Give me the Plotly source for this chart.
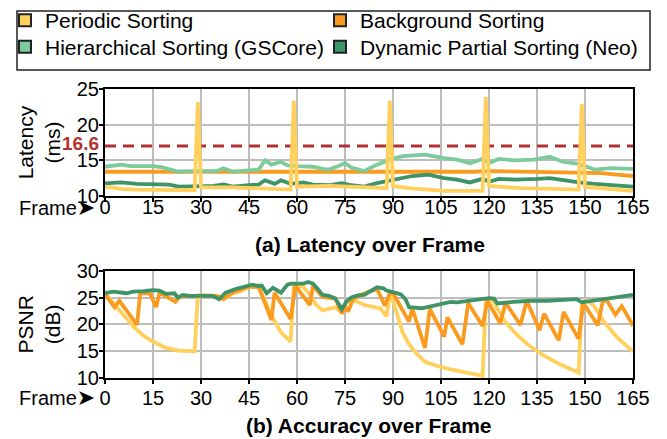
import plotly.graph_objects as go

W, H = 667, 439

# ---------------- data ----------------
frame_ticks = [0, 15, 30, 45, 60, 75, 90, 105, 120, 135, 150, 165]
latency_ticks = [10, 15, 20, 25]
psnr_ticks = [10, 15, 20, 25, 30]
budget_label = "16.6"
budget_value = 17.0

names = ["Periodic Sorting", "Background Sorting",
         "Hierarchical Sorting (GSCore)", "Dynamic Partial Sorting (Neo)"]
colors = ["#FFD15C", "#FA9A1E", "#7DCB9C", "#3F9467"]

# (a) Latency (ms) over frame
lat_periodic_x = [0, 5, 10, 20, 28, 29, 30, 40, 50, 58, 59, 60, 70, 80, 88, 89, 90, 95, 100, 106,
                  118, 119, 120, 130, 140, 148, 149, 150, 160, 165]
lat_periodic_y = [11.3, 11.0, 10.9, 10.85, 10.8, 23.2, 11.2, 11.2, 11.0, 10.9, 23.4, 11.3, 11.4, 11.2,
                  11.1, 23.4, 11.4, 11.1, 10.9, 10.7, 10.7, 23.9, 11.4, 11.1, 11.0, 10.9, 22.9, 11.3,
                  10.9, 10.7]

lat_background_x = [0, 10, 20, 30, 40, 50, 60, 70, 80, 90, 100, 105, 110, 115, 120, 130, 140, 150,
                    155, 160, 165]
lat_background_y = [13.4, 13.4, 13.3, 13.3, 13.4, 13.4, 13.3, 13.4, 13.3, 13.4, 13.3, 13.4, 13.3,
                    13.4, 13.5, 13.4, 13.4, 13.3, 13.2, 13.0, 12.8]

lat_hier_x = [0, 3, 5, 8, 10, 15, 18, 20, 23, 28, 35, 37, 40, 45, 48, 50, 52, 55, 57, 60, 65, 68,
              70, 73, 75, 77, 81, 85, 89, 93, 100, 106, 110, 114, 118, 120, 123, 128, 134, 139,
              143, 148, 153, 158, 165]
lat_hier_y = [14.1, 14.2, 14.4, 14.2, 14.2, 14.2, 14.0, 13.8, 13.4, 13.5, 13.5, 13.9, 13.4, 13.6,
              13.7, 15.0, 14.4, 14.8, 14.3, 14.2, 14.1, 13.8, 13.7, 14.2, 14.6, 14.0, 13.5, 14.4,
              15.1, 15.6, 15.8, 15.3, 15.1, 14.6, 15.2, 14.6, 15.2, 15.0, 15.1, 15.5, 14.8, 14.5,
              13.7, 13.9, 13.8]

lat_neo_x = [0, 5, 10, 15, 20, 23, 30, 34, 37, 40, 45, 48, 50, 53, 55, 58, 62, 65, 70, 74, 77, 81,
             85, 88, 91, 96, 101, 106, 110, 114, 118, 120, 123, 128, 135, 139, 145, 148, 153, 158,
             165]
lat_neo_y = [11.75, 11.9, 11.7, 11.7, 11.6, 11.3, 11.3, 11.4, 11.6, 11.3, 11.5, 11.6, 12.2, 11.7,
             12.2, 11.7, 11.9, 11.6, 11.5, 11.8, 11.5, 11.3, 11.8, 12.1, 12.4, 12.8, 13.0, 12.5,
             12.3, 11.9, 12.4, 12.0, 12.4, 12.3, 12.4, 12.5, 12.1, 11.9, 11.7, 11.5, 11.3]

# (b) Accuracy, PSNR (dB) over frame
psnr_periodic_x = [0, 2, 4, 6, 9, 12, 15, 19, 23, 28, 29, 30, 33, 35, 37, 38, 40, 42, 45, 47, 48,
                   50, 52, 55, 58, 59, 62, 64, 66, 68, 70, 72, 74, 75.5, 77, 79, 81, 86, 88, 89,
                   91, 93, 95, 97, 100, 104, 108, 113, 118, 119, 121, 125, 128, 132, 137, 142,
                   148, 149, 151, 153, 156, 160, 163, 165]
psnr_periodic_y = [25.8, 24.5, 23.0, 21.6, 19.5, 17.9, 16.8, 15.6, 15.1, 15.0, 25.3, 25.4, 25.3,
                   25.2, 24.6, 25.0, 25.8, 26.1, 27.0, 27.1, 26.8, 24.5, 21.7, 18.5, 16.8, 27.2,
                   27.0, 25.5, 23.6, 22.6, 22.9, 23.2, 22.3, 24.0, 24.6, 24.2, 23.6, 23.0, 21.5,
                   26.0, 22.5, 18.5, 16.3, 14.8, 13.0, 12.2, 11.6, 11.0, 10.4, 24.4, 24.6, 20.5,
                   18.5, 16.3, 14.2, 12.6, 11.0, 24.2, 24.4, 23.3, 20.4, 17.6, 16.0, 14.9]

psnr_background_x = [0, 3, 4.5, 10, 11, 14, 16, 17, 18, 22, 23.3, 25, 28, 30, 35, 37, 40, 45, 48,
                     50, 52, 53, 58, 59.5, 64, 65, 68, 72, 74, 75, 76, 77.5, 80, 85, 87.5, 89, 90,
                     95, 96, 100, 101.5, 106, 107, 111.7, 113.5, 118, 119.5, 123.5, 125.2, 129.8,
                     131.8, 135.8, 137.2, 141.8, 143.3, 148, 149.5, 154, 155.6, 157, 159.5, 161.5,
                     165]
psnr_background_y = [25.6, 23.2, 24.4, 19.9, 25.8, 25.8, 23.2, 25.8, 25.6, 24.2, 25.1, 25.3, 25.3,
                     25.4, 25.3, 24.8, 26.0, 27.0, 27.0, 24.0, 20.8, 25.9, 21.0, 27.2, 23.6, 27.2,
                     25.1, 24.8, 22.0, 23.3, 22.4, 24.7, 25.5, 26.6, 23.5, 25.8, 25.8, 20.5, 23.0,
                     15.6, 22.9, 17.7, 21.3, 16.3, 24.0, 19.7, 24.4, 20.2, 24.0, 19.9, 24.4, 18.9,
                     22.0, 17.0, 22.3, 17.3, 24.0, 19.8, 24.5, 24.3, 21.8, 23.4, 19.8]

psnr_neo_x = [0, 2.6, 6.7, 8.8, 12, 15, 17, 19, 21.7, 22.8, 24.3, 26.4, 29.5, 33.6, 35.7, 37.7,
              40.8, 43, 46, 47.6, 49, 50.5, 52.5, 55, 57, 58, 62, 63.5, 65, 66.5, 68, 70, 72, 74,
              75.5, 77, 79, 81, 83, 85, 87, 88, 90, 92.5, 94, 95, 99, 103, 108, 110, 115, 117.4,
              120, 121.6, 122.6, 127.8, 133, 138, 143, 147.4, 149, 152.6, 156.7, 161.9, 165]
psnr_neo_y = [25.8, 26.1, 25.8, 26.1, 26.2, 26.4, 26.3, 25.7, 25.8, 25.0, 25.5, 25.3, 25.3, 25.3,
              24.7, 25.9, 26.6, 27.0, 27.4, 27.2, 27.2, 25.8, 26.8, 25.9, 27.4, 27.6, 27.6, 27.9,
              27.6, 26.6, 25.5, 25.3, 24.8, 22.8, 24.3, 25.0, 25.4, 25.5, 26.3, 26.9, 26.7, 26.3,
              26.0, 25.6, 24.6, 23.2, 23.0, 23.6, 24.2, 24.1, 24.5, 24.7, 24.9, 24.8, 23.9, 24.2,
              24.4, 24.4, 24.6, 24.7, 24.1, 24.4, 24.8, 25.3, 25.5]

# ---------------- figure ----------------
FONT = "Liberation Sans, Arial, Helvetica, sans-serif"
DASH_RED = "#B03232"
LW = 3.8

fig = go.Figure()

# 60 fps budget line (under the curves)
fig.add_trace(go.Scatter(x=[frame_ticks[0], frame_ticks[-1]], y=[budget_value, budget_value],
                         mode="lines", line=dict(color=DASH_RED, width=3, dash="11px,7px"),
                         showlegend=False, hoverinfo="skip", xaxis="x", yaxis="y"))

top = [
    (1, lat_background_x, lat_background_y),
    (2, lat_hier_x, lat_hier_y),
    (3, lat_neo_x, lat_neo_y),
    (0, lat_periodic_x, lat_periodic_y),
]
for i, xs, ys in top:
    fig.add_trace(go.Scatter(x=xs, y=ys, mode="lines", name=names[i],
                             line=dict(color=colors[i], width=LW), showlegend=False,
                             xaxis="x", yaxis="y"))

bottom = [
    (0, psnr_periodic_x, psnr_periodic_y),
    (1, psnr_background_x, psnr_background_y),
    (3, psnr_neo_x, psnr_neo_y),
]
for i, xs, ys in bottom:
    fig.add_trace(go.Scatter(x=xs, y=ys, mode="lines", name=names[i],
                             line=dict(color=colors[i], width=LW), showlegend=False,
                             xaxis="x2", yaxis="y2"))

# legend entries (square swatches), one small legend per entry (2 x 2 grid)
legend_ids = ["legend", "legend2", "legend3", "legend4"]
for i in range(4):
    fig.add_trace(go.Scatter(x=[None], y=[None], mode="markers", name=names[i],
                             marker=dict(symbol="square", size=12, color=colors[i],
                                         line=dict(color="#222222", width=1.5)),
                             showlegend=True, legend=legend_ids[i],
                             xaxis="x", yaxis="y"))

xl, xr = 105 / W, 633 / W
axis_common = dict(showline=True, linecolor="black", linewidth=2, mirror=True,
                   showgrid=True, gridcolor="#BDBDBD", gridwidth=1.5,
                   ticks="outside", ticklen=4, tickwidth=2, tickcolor="black",
                   tickfont=dict(family=FONT, size=20, color="black"),
                   zeroline=False, automargin=False, fixedrange=True)

legend_common = dict(orientation="h", xanchor="left", yanchor="top",
                     font=dict(family=FONT, size=21, color="black"),
                     itemsizing="constant", bgcolor="rgba(0,0,0,0)", borderwidth=0)
col_x = [5 / W, 320 / W]
row_y = [1 + 7 / H, 1 - 20 / H]

arrow = "<span style='font-family:DejaVu Sans; font-size:22px'>➤</span>"

fig.update_layout(
    width=W, height=H,
    margin=dict(l=0, r=0, t=0, b=0),
    paper_bgcolor="white", plot_bgcolor="white",
    font=dict(family=FONT, size=20, color="black"),
    xaxis=dict(domain=[xl, xr], range=[0, 165], tickvals=frame_ticks, anchor="y",
               ticklabelstandoff=-12, **axis_common),
    yaxis=dict(domain=[1 - 192 / H, 1 - 83.5 / H], range=[10, 25], tickvals=latency_ticks,
               anchor="x", ticklabelstandoff=-4,
               title=dict(text="Latency<br>(ms)", font=dict(family=FONT, size=21), standoff=10),
               **axis_common),
    xaxis2=dict(domain=[xl, xr], range=[0, 165], tickvals=frame_ticks, anchor="y2",
                ticklabelstandoff=-3, **axis_common),
    yaxis2=dict(domain=[1 - 377 / H, 1 - 268 / H], range=[10, 30], tickvals=psnr_ticks,
                anchor="x2", ticklabelstandoff=-4,
                title=dict(text="PSNR<br>(dB)", font=dict(family=FONT, size=21), standoff=10),
                **axis_common),
    legend=dict(x=col_x[0], y=row_y[0], **legend_common),
    legend2=dict(x=col_x[1], y=row_y[0], **legend_common),
    legend3=dict(x=col_x[0], y=row_y[1], **legend_common),
    legend4=dict(x=col_x[1], y=row_y[1], **legend_common),
    shapes=[dict(type="rect", xref="paper", yref="paper", x0=17 / W, x1=650 / W,
                 y0=1 - 64 / H, y1=1 - 4 / H, line=dict(color="#222222", width=1.5))],
    annotations=[
        dict(text="<b>" + budget_label + "</b>", xref="paper", yref="paper", x=101 / W,
             y=1 - 139 / H, xanchor="right", yanchor="middle", showarrow=False,
             font=dict(family=FONT, size=19, color=DASH_RED)),
        dict(text="Frame" + arrow, xref="paper", yref="paper", x=97 / W, y=1 - 204 / H,
             xanchor="right", yanchor="middle", showarrow=False,
             font=dict(family=FONT, size=20, color="black")),
        dict(text="Frame" + arrow, xref="paper", yref="paper", x=97 / W, y=1 - 397 / H,
             xanchor="right", yanchor="middle", showarrow=False,
             font=dict(family=FONT, size=20, color="black")),
        dict(text="<b>(a) Latency over Frame</b>", xref="paper", yref="paper", x=370 / W,
             y=1 - 241 / H, xanchor="center", yanchor="middle", showarrow=False,
             font=dict(family=FONT, size=21, color="black")),
        dict(text="<b>(b) Accuracy over Frame</b>", xref="paper", yref="paper", x=369 / W,
             y=1 - 425 / H, xanchor="center", yanchor="middle", showarrow=False,
             font=dict(family=FONT, size=21, color="black")),
    ],
)

fig.write_html("out.html", config={"displayModeBar": False},
               post_script="document.body.style.margin='0';")
